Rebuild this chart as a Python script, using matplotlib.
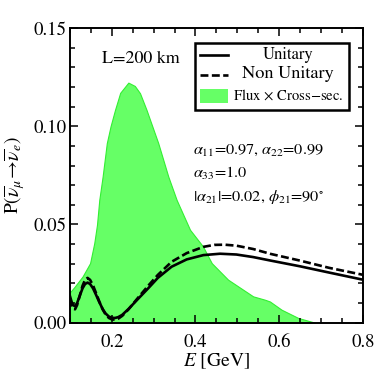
import matplotlib
matplotlib.use("Agg")
import matplotlib.pyplot as plt
from matplotlib.patches import Rectangle
from matplotlib.ticker import MultipleLocator, FormatStrFormatter

plt.rcParams['font.family'] = ['STIXGeneral', 'DejaVu Serif']
plt.rcParams['mathtext.fontset'] = 'stix'

# Flux x cross-section (arbitrary scale)
flux_E = [0.100, 0.110, 0.130, 0.148, 0.158, 0.1645, 0.170, 0.178, 0.188, 0.197, 0.2076,
          0.220, 0.2395, 0.255, 0.2674, 0.283, 0.311, 0.335, 0.355, 0.387, 0.418, 0.439,
          0.478, 0.538, 0.566, 0.578, 0.606, 0.646, 0.686]
flux_val = [0.0155, 0.0180, 0.0235, 0.0303, 0.0405, 0.0498, 0.0625, 0.0744, 0.0914, 0.1000, 0.1083,
            0.1170, 0.1222, 0.1205, 0.1168, 0.1083, 0.0914, 0.0744, 0.0625, 0.0473, 0.0388, 0.0303,
            0.0219, 0.0134, 0.0117, 0.0108, 0.0066, 0.0024, 0.0]

# Unitary
uni_E = [0.100, 0.104, 0.108, 0.112, 0.117, 0.123, 0.130, 0.136, 0.142, 0.148, 0.155, 0.162,
         0.170, 0.178, 0.185, 0.193, 0.200, 0.2075, 0.215, 0.225, 0.240, 0.260, 0.287, 0.310,
         0.343, 0.379, 0.419, 0.459, 0.498, 0.538, 0.580, 0.650, 0.720, 0.800]
uni_P = [0.0134, 0.0105, 0.0088, 0.0085, 0.0100, 0.0135, 0.0175, 0.0197, 0.0204, 0.0197, 0.0175, 0.0143,
         0.0105, 0.0070, 0.0047, 0.0031, 0.0025, 0.0024, 0.0028, 0.0040, 0.0070, 0.0115, 0.0175, 0.0228,
         0.0285, 0.0322, 0.0344, 0.0351, 0.0347, 0.0334, 0.0316, 0.0287, 0.0255, 0.0219]

# Non unitary
nu_E = [0.100, 0.104, 0.108, 0.112, 0.117, 0.123, 0.130, 0.136, 0.142, 0.148, 0.155, 0.162,
        0.170, 0.178, 0.185, 0.193, 0.200, 0.2075, 0.215, 0.225, 0.240, 0.260, 0.287, 0.310,
        0.343, 0.379, 0.419, 0.445, 0.470, 0.498, 0.538, 0.580, 0.650, 0.720, 0.800]
nu_P = [0.0122, 0.0090, 0.0072, 0.0068, 0.0090, 0.0135, 0.0188, 0.0218, 0.0228, 0.0218, 0.0190, 0.0152,
        0.0108, 0.0068, 0.0042, 0.0024, 0.0017, 0.0015, 0.0020, 0.0035, 0.0068, 0.0120, 0.0188, 0.0243,
        0.0310, 0.0354, 0.0386, 0.0396, 0.0397, 0.0392, 0.0375, 0.0350, 0.0316, 0.0279, 0.0244]

xticks = [0.2, 0.4, 0.6, 0.8]
yticks = [0.00, 0.05, 0.10, 0.15]

fig = plt.figure(figsize=(3.76, 3.76), dpi=100)
ax = fig.add_axes([0.1862, 0.1418, 0.7784, 0.7837])

ax.fill_between(flux_E, flux_val, 0, facecolor='#66ff66', edgecolor='#33ee33', lw=0.8, zorder=1)
ax.plot(uni_E, uni_P, color='black', lw=1.9, zorder=3)
ax.plot(nu_E, nu_P, color='black', lw=1.9, ls=(0, (3.0, 1.3)), zorder=3)

ax.set_xlim(0.1, 0.8)
ax.set_ylim(0.0, 0.15)
ax.set_xticks(xticks)
ax.set_yticks(yticks)
ax.xaxis.set_minor_locator(MultipleLocator(0.05))
ax.yaxis.set_minor_locator(MultipleLocator(0.01))
ax.yaxis.set_major_formatter(FormatStrFormatter('%.2f'))
ax.xaxis.set_major_formatter(FormatStrFormatter('%.1f'))
ax.tick_params(which='both', direction='in', top=True, right=True, labelsize=13.5, width=1.1)
ax.tick_params(which='major', length=6)
ax.tick_params(which='minor', length=3.5)
ax.tick_params(axis='x', pad=8)
ax.tick_params(axis='y', pad=2.5)
for s in ax.spines.values():
    s.set_linewidth(1.4)

ax.set_xlabel(r'$E$ [GeV]', fontsize=14, va='center')
ax.xaxis.set_label_coords(0.5, -0.13)
ax.set_ylabel(r'P($\overline{\nu}_\mu\!\rightarrow\!\overline{\nu}_e$)', fontsize=14, va='center')
ax.yaxis.set_label_coords(-0.19, 0.5)

ax.text(0.243, 0.895, 'L=200 km', transform=ax.transAxes, fontsize=13, ha='center', va='center')
ax.text(0.419, 0.586, r'$\alpha_{11}$=0.97, $\alpha_{22}$=0.99', transform=ax.transAxes,
        fontsize=11.7, ha='left', va='center')
ax.text(0.419, 0.507, r'$\alpha_{33}$=1.0', transform=ax.transAxes,
        fontsize=11.7, ha='left', va='center')
ax.text(0.419, 0.428, r'$|\alpha_{21}|$=0.02, $\phi_{21}$=90$^{\circ}$', transform=ax.transAxes,
        fontsize=11.7, ha='left', va='center')

# legend box
ax.add_patch(Rectangle((0.427, 0.722), 0.526, 0.227, transform=ax.transAxes, fill=True,
                       facecolor='white', edgecolor='black', lw=1.8, zorder=5))
ax.plot([0.444, 0.540], [0.908, 0.908], transform=ax.transAxes, color='black', lw=1.9, zorder=6)
ax.plot([0.444, 0.540], [0.841, 0.841], transform=ax.transAxes, color='black', lw=1.9,
        ls=(0, (3.0, 1.3)), zorder=6)
ax.add_patch(Rectangle((0.444, 0.745), 0.096, 0.047, transform=ax.transAxes,
                       facecolor='#66ff66', edgecolor='none', zorder=6))
ax.text(0.745, 0.910, 'Unitary', transform=ax.transAxes, fontsize=12, ha='center', va='center', zorder=7)
ax.text(0.745, 0.843, 'Non Unitary', transform=ax.transAxes, fontsize=13.2, ha='center', va='center', zorder=7)
ax.text(0.745, 0.772, r'Flux$\,\times\,$Cross$-$sec.', transform=ax.transAxes, fontsize=10.5,
        ha='center', va='center', zorder=7)

fig.savefig('out.png', dpi=100)
